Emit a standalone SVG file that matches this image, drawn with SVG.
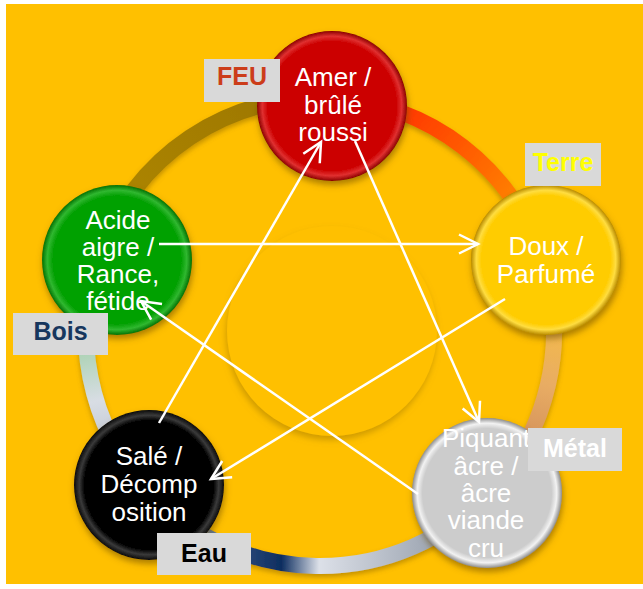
<svg xmlns="http://www.w3.org/2000/svg" width="643" height="589" viewBox="0 0 643 589">
<style>
.t{font-family:"Liberation Sans",Arial,sans-serif;font-size:26px;fill:#ffffff;text-anchor:middle}
.lb{font-family:"Liberation Sans",Arial,sans-serif;font-size:25px;font-weight:bold;text-anchor:middle}
.box{fill:#D9D9D9}
.arrow{fill:none;stroke:#ffffff;stroke-width:2.5;marker-end:url(#ah)}
.seg{fill:none;stroke-width:16}
</style>
<defs>
<marker id="ah" markerUnits="userSpaceOnUse" viewBox="-22 -12 24 24" markerWidth="24" markerHeight="24" refX="0" refY="0" orient="auto" overflow="visible">
<path d="M-19,-9.5 L0,0 L-19,9.5" fill="none" stroke="#ffffff" stroke-width="2.5"/>
</marker>
<filter id="sh" x="-20%" y="-20%" width="140%" height="150%">
<feDropShadow dx="1" dy="4" stdDeviation="3" flood-color="#6a4a00" flood-opacity="0.55"/>
</filter>
<filter id="shr" x="-10%" y="-10%" width="120%" height="125%">
<feDropShadow dx="0" dy="3" stdDeviation="2.5" flood-color="#7a5600" flood-opacity="0.45"/>
</filter>
<filter id="shi" x="-20%" y="-20%" width="140%" height="150%">
<feDropShadow dx="-1" dy="4" stdDeviation="3" flood-color="#a07400" flood-opacity="0.5"/>
</filter>
<radialGradient id="gRed"><stop offset="0" stop-color="#CC0000"/><stop offset="0.86" stop-color="#CC0000"/><stop offset="0.93" stop-color="#E03030"/><stop offset="1" stop-color="#8A0000"/></radialGradient>
<radialGradient id="gGreen"><stop offset="0" stop-color="#06A106"/><stop offset="0.86" stop-color="#06A106"/><stop offset="0.93" stop-color="#30B830"/><stop offset="1" stop-color="#037003"/></radialGradient>
<radialGradient id="gYel"><stop offset="0" stop-color="#FFCC00"/><stop offset="0.86" stop-color="#FFCC00"/><stop offset="0.93" stop-color="#FFDD40"/><stop offset="1" stop-color="#B88A00"/></radialGradient>
<radialGradient id="gBlk"><stop offset="0" stop-color="#000000"/><stop offset="0.86" stop-color="#000000"/><stop offset="0.93" stop-color="#3a3a3a"/><stop offset="1" stop-color="#0a0a0a"/></radialGradient>
<radialGradient id="gGry"><stop offset="0" stop-color="#CCCCCC"/><stop offset="0.86" stop-color="#CCCCCC"/><stop offset="0.93" stop-color="#F2F2F2"/><stop offset="1" stop-color="#8E8E8E"/></radialGradient>
<linearGradient id="s1" gradientUnits="userSpaceOnUse" x1="332" y1="98" x2="543" y2="261"><stop offset="0" stop-color="#FF1A00"/><stop offset="0.5" stop-color="#FF5A00"/><stop offset="1" stop-color="#FFA000"/></linearGradient>
<linearGradient id="s2" gradientUnits="userSpaceOnUse" x1="543" y1="261" x2="488" y2="495"><stop offset="0" stop-color="#FFC830"/><stop offset="0.5" stop-color="#E8AC64"/><stop offset="1" stop-color="#C07850"/></linearGradient>
<linearGradient id="s3" gradientUnits="userSpaceOnUse" x1="488" y1="495" x2="146" y2="489"><stop offset="0" stop-color="#8C94A4"/><stop offset="0.17" stop-color="#A0A8B4"/><stop offset="0.49" stop-color="#DCE0E8"/><stop offset="0.6" stop-color="#0E2E60"/><stop offset="0.72" stop-color="#2A4A7A"/><stop offset="0.82" stop-color="#6A84A8"/><stop offset="1" stop-color="#9AA8BC"/></linearGradient>
<linearGradient id="s4" gradientUnits="userSpaceOnUse" x1="146" y1="489" x2="99" y2="254"><stop offset="0" stop-color="#A8B0C0"/><stop offset="0.4" stop-color="#D8DDE4"/><stop offset="1" stop-color="#60C060"/></linearGradient>
<linearGradient id="s5" gradientUnits="userSpaceOnUse" x1="99" y1="254" x2="332" y2="98"><stop offset="0" stop-color="#B08800"/><stop offset="1" stop-color="#9A7400"/></linearGradient>
</defs>
<rect x="6" y="4" width="637" height="580" fill="#FFC000"/>
<g id="ring" filter="url(#shr)">
<path class="seg" stroke="url(#s5)" d="M99.4,253.9 A234,234 0 0 1 332.2,98.3"/>
<path class="seg" stroke="url(#s1)" d="M332.2,98.3 A234,234 0 0 1 542.9,260.9"/>
<path class="seg" stroke="url(#s2)" d="M542.9,260.9 A234,234 0 0 1 488.3,494.6"/>
<path class="seg" stroke="url(#s3)" d="M488.3,494.6 A234,234 0 0 1 146.1,488.6"/>
<path class="seg" stroke="url(#s4)" d="M146.1,488.6 A234,234 0 0 1 99.4,253.9"/>
</g>
<g id="centre">
<circle cx="332" cy="331" r="105" fill="#FFC000" filter="url(#shi)"/>
</g>
<g id="feu-node">
<circle cx="332" cy="106" r="75" fill="url(#gRed)" filter="url(#sh)"/>
<text class="t" x="333" y="86">Amer /</text>
<text class="t" x="333" y="114">brûlé</text>
<text class="t" x="333" y="141">roussi</text>
</g>
<g id="terre-node">
<circle cx="546" cy="260" r="75" fill="url(#gYel)" filter="url(#sh)"/>
<text class="t" x="546" y="255">Doux /</text>
<text class="t" x="546" y="283">Parfumé</text>
</g>
<g id="metal-node">
<circle cx="487" cy="493" r="75" fill="url(#gGry)" filter="url(#sh)"/>
<text class="t" x="486" y="447">Piquant</text>
<text class="t" x="486" y="475">âcre /</text>
<text class="t" x="486" y="502">âcre</text>
<text class="t" x="486" y="529">viande</text>
<text class="t" x="486" y="557">cru</text>
</g>
<g id="eau-node">
<circle cx="149" cy="485" r="75" fill="url(#gBlk)" filter="url(#sh)"/>
<text class="t" x="149" y="465">Salé /</text>
<text class="t" x="149" y="493">Décomp</text>
<text class="t" x="149" y="521">osition</text>
</g>
<g id="bois-node">
<circle cx="117" cy="260" r="75" fill="url(#gGreen)" filter="url(#sh)"/>
<text class="t" x="118" y="229">Acide</text>
<text class="t" x="118" y="256">aigre /</text>
<text class="t" x="118" y="283">Rance,</text>
<text class="t" x="118" y="310">fétide</text>
</g>
<g id="connectors">
<path class="arrow" d="M159,244 L478,244"/>
<path class="arrow" d="M505,299 L211,479"/>
<path class="arrow" d="M418,494 L141,301"/>
<path class="arrow" d="M159,423 L321,142"/>
<path class="arrow" d="M355,141 L479,422"/>
</g>
<g id="label-feu"><rect class="box" x="204" y="59" width="76" height="43"/><text class="lb" x="242" y="85" fill="#CC3D1A">FEU</text></g>
<g id="label-terre"><rect class="box" x="525" y="143" width="76" height="43"/><text class="lb" x="563" y="171" fill="#FFFF00">Terre</text></g>
<g id="label-bois"><rect class="box" x="13" y="313" width="95" height="42"/><text class="lb" x="60.5" y="340" fill="#17375E">Bois</text></g>
<g id="label-metal"><rect class="box" x="528" y="428" width="94" height="43"/><text class="lb" x="575" y="457" fill="#FFFFFF">Métal</text></g>
<g id="label-eau"><rect class="box" x="157" y="533" width="94" height="42"/><text class="lb" x="204" y="562" fill="#000000">Eau</text></g>
</svg>
